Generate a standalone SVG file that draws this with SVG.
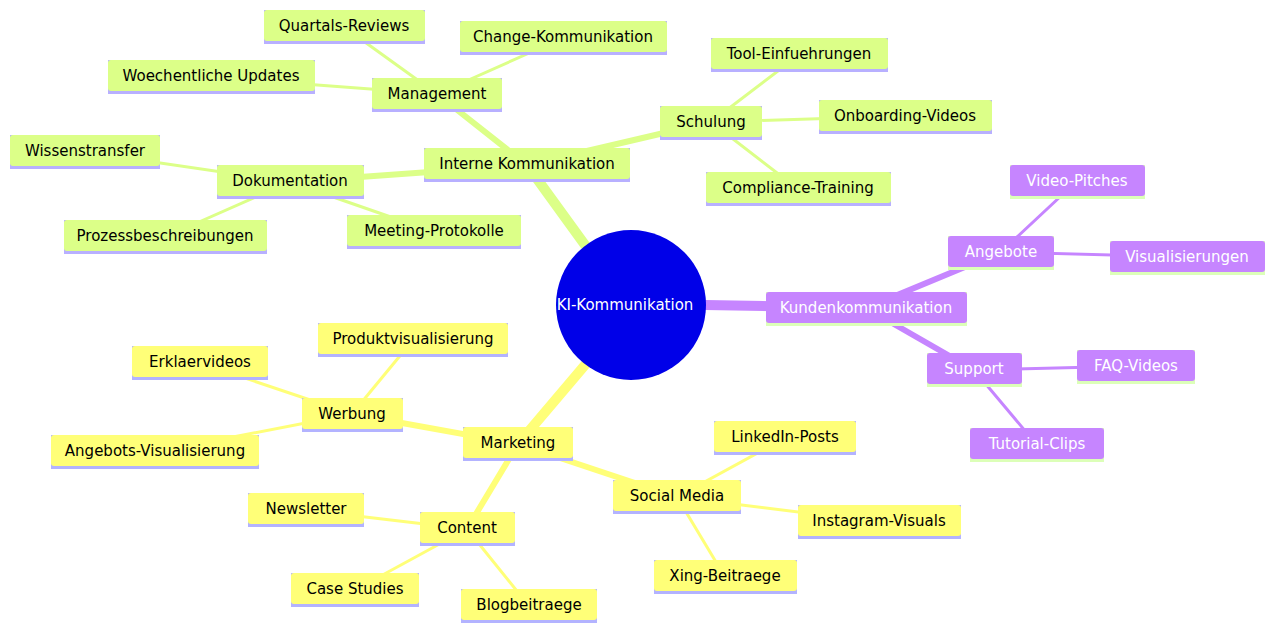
<svg xmlns="http://www.w3.org/2000/svg" width="1283" height="637" viewBox="0 0 1283 637">
<style>
text{font-family:"DejaVu Sans","Liberation Sans",sans-serif;font-size:15px;text-anchor:middle;dominant-baseline:central;fill:#000}
.g rect.b{fill:#dcff88}.g rect.u{fill:#b8b0ff}
.y rect.b{fill:#ffff78}.y rect.u{fill:#b3b3ff}
.p rect.b{fill:#c685ff}.p rect.u{fill:#dcffb8}.p text{fill:#fff}
.eg{stroke:#dcff88;fill:none;stroke-linecap:round}.ey{stroke:#ffff78;fill:none;stroke-linecap:round}.ep{stroke:#c685ff;fill:none;stroke-linecap:round}
</style>
<g id="connectors">
<line class="eg" x1="585" y1="245" x2="527" y2="165" stroke-width="10"/>
<line class="ep" x1="705" y1="305" x2="866" y2="308" stroke-width="10"/>
<line class="ey" x1="585" y1="365" x2="518" y2="444" stroke-width="10"/>
<line class="eg" x1="527" y1="165" x2="437" y2="94" stroke-width="6"/>
<line class="eg" x1="527" y1="165" x2="711" y2="122" stroke-width="6"/>
<line class="eg" x1="527" y1="165" x2="290" y2="182" stroke-width="6"/>
<line class="eg" x1="437" y1="94" x2="344" y2="27" stroke-width="3"/>
<line class="eg" x1="437" y1="94" x2="563" y2="38" stroke-width="3"/>
<line class="eg" x1="437" y1="94" x2="211" y2="77" stroke-width="3"/>
<line class="eg" x1="711" y1="122" x2="799" y2="55" stroke-width="3"/>
<line class="eg" x1="711" y1="122" x2="905" y2="116" stroke-width="3"/>
<line class="eg" x1="711" y1="122" x2="798" y2="189" stroke-width="3"/>
<line class="eg" x1="290" y1="182" x2="85" y2="152" stroke-width="3"/>
<line class="eg" x1="290" y1="182" x2="165" y2="237" stroke-width="3"/>
<line class="eg" x1="290" y1="182" x2="434" y2="232" stroke-width="3"/>
<line class="ep" x1="866" y1="308" x2="1001" y2="252" stroke-width="6"/>
<line class="ep" x1="866" y1="308" x2="974" y2="370" stroke-width="6"/>
<line class="ep" x1="1001" y1="252" x2="1077" y2="181" stroke-width="3"/>
<line class="ep" x1="1001" y1="252" x2="1187" y2="257" stroke-width="3"/>
<line class="ep" x1="974" y1="370" x2="1136" y2="366" stroke-width="3"/>
<line class="ep" x1="974" y1="370" x2="1037" y2="445" stroke-width="3"/>
<line class="ey" x1="518" y1="444" x2="352" y2="414" stroke-width="6"/>
<line class="ey" x1="518" y1="444" x2="677" y2="497" stroke-width="6"/>
<line class="ey" x1="518" y1="444" x2="467" y2="529" stroke-width="6"/>
<line class="ey" x1="352" y1="414" x2="413" y2="340" stroke-width="3"/>
<line class="ey" x1="352" y1="414" x2="200" y2="363" stroke-width="3"/>
<line class="ey" x1="352" y1="414" x2="155" y2="452" stroke-width="3"/>
<line class="ey" x1="677" y1="497" x2="785" y2="438" stroke-width="3"/>
<line class="ey" x1="677" y1="497" x2="879" y2="522" stroke-width="3"/>
<line class="ey" x1="677" y1="497" x2="725" y2="577" stroke-width="3"/>
<line class="ey" x1="467" y1="529" x2="306" y2="510" stroke-width="3"/>
<line class="ey" x1="467" y1="529" x2="355" y2="590" stroke-width="3"/>
<line class="ey" x1="467" y1="529" x2="529" y2="606" stroke-width="3"/>
</g>
<g id="root"><circle cx="631" cy="305" r="75" fill="#0000e8"/><text x="625" y="305" style="fill:#fff">KI-Kommunikation</text></g>
<g id="n-interne" class="g"><rect class="u" x="424" y="148" width="206" height="34"/><rect class="b" x="424" y="148" width="206" height="31" rx="3"/><text x="527" y="164">Interne Kommunikation</text></g>
<g id="n-management" class="g"><rect class="u" x="372" y="78" width="130" height="34"/><rect class="b" x="372" y="78" width="130" height="31" rx="3"/><text x="437" y="94">Management</text></g>
<g id="n-quartals" class="g"><rect class="u" x="264" y="10" width="161" height="34"/><rect class="b" x="264" y="10" width="161" height="31" rx="3"/><text x="344" y="26">Quartals-Reviews</text></g>
<g id="n-change" class="g"><rect class="u" x="460" y="21" width="207" height="34"/><rect class="b" x="460" y="21" width="207" height="31" rx="3"/><text x="563" y="37">Change-Kommunikation</text></g>
<g id="n-woechentlich" class="g"><rect class="u" x="108" y="60" width="207" height="34"/><rect class="b" x="108" y="60" width="207" height="31" rx="3"/><text x="211" y="76">Woechentliche Updates</text></g>
<g id="n-schulung" class="g"><rect class="u" x="660" y="106" width="102" height="34"/><rect class="b" x="660" y="106" width="102" height="31" rx="3"/><text x="711" y="122">Schulung</text></g>
<g id="n-tool" class="g"><rect class="u" x="711" y="38" width="177" height="34"/><rect class="b" x="711" y="38" width="177" height="31" rx="3"/><text x="799" y="54">Tool-Einfuehrungen</text></g>
<g id="n-onboarding" class="g"><rect class="u" x="819" y="100" width="173" height="34"/><rect class="b" x="819" y="100" width="173" height="31" rx="3"/><text x="905" y="116">Onboarding-Videos</text></g>
<g id="n-compliance" class="g"><rect class="u" x="706" y="172" width="185" height="34"/><rect class="b" x="706" y="172" width="185" height="31" rx="3"/><text x="798" y="188">Compliance-Training</text></g>
<g id="n-doku" class="g"><rect class="u" x="217" y="165" width="147" height="34"/><rect class="b" x="217" y="165" width="147" height="31" rx="3"/><text x="290" y="181">Dokumentation</text></g>
<g id="n-wissen" class="g"><rect class="u" x="10" y="135" width="150" height="34"/><rect class="b" x="10" y="135" width="150" height="31" rx="3"/><text x="85" y="151">Wissenstransfer</text></g>
<g id="n-prozess" class="g"><rect class="u" x="64" y="220" width="203" height="34"/><rect class="b" x="64" y="220" width="203" height="31" rx="3"/><text x="165" y="236">Prozessbeschreibungen</text></g>
<g id="n-meeting" class="g"><rect class="u" x="347" y="215" width="174" height="34"/><rect class="b" x="347" y="215" width="174" height="31" rx="3"/><text x="434" y="231">Meeting-Protokolle</text></g>
<g id="n-kunden" class="p"><rect class="u" x="766" y="292" width="201" height="34"/><rect class="b" x="766" y="292" width="201" height="31" rx="3"/><text x="866" y="308">Kundenkommunikation</text></g>
<g id="n-angebote" class="p"><rect class="u" x="948" y="236" width="106" height="34"/><rect class="b" x="948" y="236" width="106" height="31" rx="3"/><text x="1001" y="252">Angebote</text></g>
<g id="n-video" class="p"><rect class="u" x="1010" y="165" width="135" height="34"/><rect class="b" x="1010" y="165" width="135" height="31" rx="3"/><text x="1077" y="181">Video-Pitches</text></g>
<g id="n-visual" class="p"><rect class="u" x="1110" y="241" width="155" height="34"/><rect class="b" x="1110" y="241" width="155" height="31" rx="3"/><text x="1187" y="257">Visualisierungen</text></g>
<g id="n-support" class="p"><rect class="u" x="927" y="353" width="95" height="34"/><rect class="b" x="927" y="353" width="95" height="31" rx="3"/><text x="974" y="369">Support</text></g>
<g id="n-faq" class="p"><rect class="u" x="1077" y="350" width="118" height="34"/><rect class="b" x="1077" y="350" width="118" height="31" rx="3"/><text x="1136" y="366">FAQ-Videos</text></g>
<g id="n-tutorial" class="p"><rect class="u" x="970" y="428" width="134" height="34"/><rect class="b" x="970" y="428" width="134" height="31" rx="3"/><text x="1037" y="444">Tutorial-Clips</text></g>
<g id="n-marketing" class="y"><rect class="u" x="463" y="427" width="110" height="34"/><rect class="b" x="463" y="427" width="110" height="31" rx="3"/><text x="518" y="443">Marketing</text></g>
<g id="n-werbung" class="y"><rect class="u" x="302" y="398" width="101" height="34"/><rect class="b" x="302" y="398" width="101" height="31" rx="3"/><text x="352" y="414">Werbung</text></g>
<g id="n-produkt" class="y"><rect class="u" x="318" y="323" width="190" height="34"/><rect class="b" x="318" y="323" width="190" height="31" rx="3"/><text x="413" y="339">Produktvisualisierung</text></g>
<g id="n-erklaer" class="y"><rect class="u" x="132" y="346" width="136" height="34"/><rect class="b" x="132" y="346" width="136" height="31" rx="3"/><text x="200" y="362">Erklaervideos</text></g>
<g id="n-angebotsvis" class="y"><rect class="u" x="51" y="435" width="208" height="34"/><rect class="b" x="51" y="435" width="208" height="31" rx="3"/><text x="155" y="451">Angebots-Visualisierung</text></g>
<g id="n-social" class="y"><rect class="u" x="613" y="480" width="128" height="34"/><rect class="b" x="613" y="480" width="128" height="31" rx="3"/><text x="677" y="496">Social Media</text></g>
<g id="n-linkedin" class="y"><rect class="u" x="714" y="421" width="142" height="34"/><rect class="b" x="714" y="421" width="142" height="31" rx="3"/><text x="785" y="437">LinkedIn-Posts</text></g>
<g id="n-instagram" class="y"><rect class="u" x="798" y="505" width="163" height="34"/><rect class="b" x="798" y="505" width="163" height="31" rx="3"/><text x="879" y="521">Instagram-Visuals</text></g>
<g id="n-xing" class="y"><rect class="u" x="654" y="560" width="143" height="34"/><rect class="b" x="654" y="560" width="143" height="31" rx="3"/><text x="725" y="576">Xing-Beitraege</text></g>
<g id="n-content" class="y"><rect class="u" x="420" y="512" width="95" height="34"/><rect class="b" x="420" y="512" width="95" height="31" rx="3"/><text x="467" y="528">Content</text></g>
<g id="n-newsletter" class="y"><rect class="u" x="248" y="493" width="116" height="34"/><rect class="b" x="248" y="493" width="116" height="31" rx="3"/><text x="306" y="509">Newsletter</text></g>
<g id="n-case" class="y"><rect class="u" x="291" y="573" width="128" height="34"/><rect class="b" x="291" y="573" width="128" height="31" rx="3"/><text x="355" y="589">Case Studies</text></g>
<g id="n-blog" class="y"><rect class="u" x="461" y="589" width="136" height="34"/><rect class="b" x="461" y="589" width="136" height="31" rx="3"/><text x="529" y="605">Blogbeitraege</text></g>
</svg>
